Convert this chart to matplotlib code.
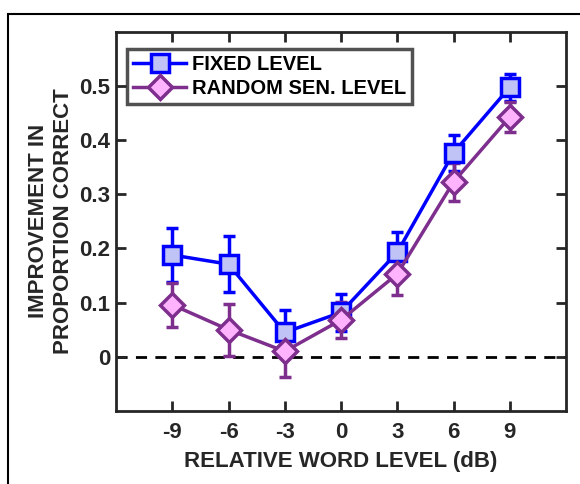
import numpy as np
import matplotlib
matplotlib.use("Agg")
import matplotlib.pyplot as plt
from matplotlib.patches import Rectangle

plt.rcParams['font.family'] = ['Liberation Sans', 'DejaVu Sans']
plt.rcParams['font.weight'] = 'bold'

# data
levels = [-9, -6, -3, 0, 3, 6, 9]
fixed_mean = [0.188, 0.171, 0.045, 0.082, 0.193, 0.377, 0.498]
fixed_err = [0.050, 0.052, 0.042, 0.034, 0.037, 0.033, 0.025]
random_mean = [0.096, 0.050, 0.010, 0.068, 0.153, 0.323, 0.443]
random_err = [0.041, 0.048, 0.048, 0.034, 0.038, 0.035, 0.027]

axis_col = '#262626'

fig = plt.figure(figsize=(5.8, 4.84), dpi=100)
ax = fig.add_axes([0.2, 0.151, 0.776, 0.783])

# outer frame around the panel
fig.patches.append(Rectangle((8 / 580, -0.1), 1.2, 1 - 14 / 484 + 0.1,
                             transform=fig.transFigure, fill=False,
                             edgecolor='black', linewidth=1.5))

ax.axhline(0, color='black', linestyle=(0, (4, 3)), linewidth=2, zorder=1)

# error bars first, then line + markers on top (legend shows no bars)
ax.errorbar(levels, fixed_mean, yerr=fixed_err, fmt='none', ecolor='#0000FF',
            elinewidth=2.5, capsize=4, capthick=2.5, zorder=2)
ax.errorbar(levels, random_mean, yerr=random_err, fmt='none', ecolor='#7E2F8E',
            elinewidth=2.5, capsize=4, capthick=2.5, zorder=2)
ax.plot(levels, fixed_mean, color='#0000FF', linewidth=2.5,
        marker='s', markersize=13, markerfacecolor='#BFC3F5',
        markeredgecolor='#0000FF', markeredgewidth=2.5, label='FIXED LEVEL', zorder=3)
ax.plot(levels, random_mean, color='#7E2F8E', linewidth=2.5,
        marker='D', markersize=12, markerfacecolor='#FFB3FF',
        markeredgecolor='#7E2F8E', markeredgewidth=2.5, label='RANDOM SEN. LEVEL', zorder=4)

ax.set_xlim(-12, 12)
ax.set_ylim(-0.1, 0.6)
ax.set_xticks(levels)
ax.set_xticklabels([str(v) for v in levels])
ax.set_yticks([0, 0.1, 0.2, 0.3, 0.4, 0.5])
ax.set_yticklabels(['0', '0.1', '0.2', '0.3', '0.4', '0.5'])

ax.tick_params(direction='in', length=7, width=2, colors=axis_col,
               labelsize=16, top=True, right=True)
ax.tick_params(axis='x', pad=8)
ax.tick_params(axis='y', pad=4)
for lab in ax.get_xticklabels() + ax.get_yticklabels():
    lab.set_fontweight('bold')
    lab.set_color(axis_col)
for sp in ax.spines.values():
    sp.set_linewidth(2)
    sp.set_color(axis_col)

ax.set_xlabel('RELATIVE WORD LEVEL (dB)', fontsize=16, fontweight='bold',
              color=axis_col, labelpad=6)
ax.set_ylabel('IMPROVEMENT IN\nPROPORTION CORRECT', fontsize=16, fontweight='bold',
              color=axis_col, labelpad=4, linespacing=1.25)

leg = ax.legend(loc='upper left', bbox_to_anchor=(0.012, 0.972), fontsize=14.5,
                frameon=True, fancybox=False, handlelength=2.6,
                borderpad=0.3, labelspacing=0.25, handletextpad=0.3,
                borderaxespad=0.3)
leg.get_frame().set_edgecolor(axis_col)
leg.get_frame().set_linewidth(2.5)
for t in leg.get_texts():
    t.set_fontweight('bold')
    t.set_color('black')

fig.savefig('out.png', dpi=100)
